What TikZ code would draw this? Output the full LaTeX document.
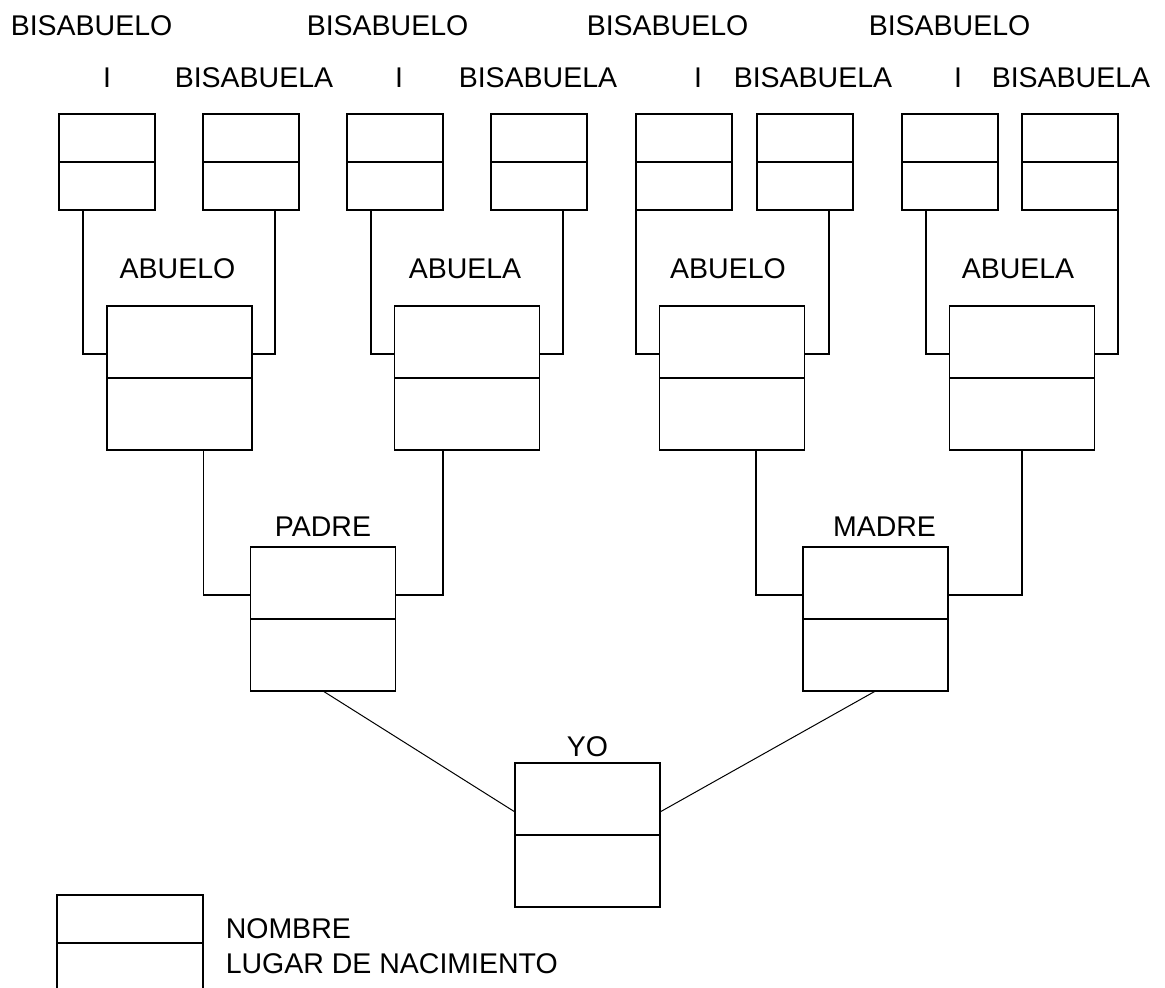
\documentclass[tikz,border=0pt]{standalone}
\usepackage{fontspec}
\setmainfont{Liberation Sans}
\begin{document}
\begin{tikzpicture}[x=1pt,y=-1pt,line width=1.5pt,
        famtext/.style={inner sep=0pt,font=\fontsize{28.5}{34}\selectfont},
        every label/.style={famtext},
        bisbox/.style={draw,rectangle,inner sep=0pt,outer sep=0pt,minimum width=96pt,minimum height=96pt,
            append after command={(\tikzlastnode.west) edge (\tikzlastnode.east)}},
        genbox/.style={bisbox,minimum width=145pt,minimum height=144pt},
        diag/.style={line width=1pt}]
        \useasboundingbox (0,0) rectangle (1165,988);

        % bisabuelos
        \node[famtext,anchor=base west] (t1) at (10,35)  {BISABUELO};
        \node[famtext,anchor=base west] (t2) at (306,35) {BISABUELO};
        \node[famtext,anchor=base west] (t3) at (586,35) {BISABUELO};
        \node[famtext,anchor=base west] (t4) at (868,35) {BISABUELO};
        \node[famtext,anchor=base] (i1) at (107,87) {I};
        \node[famtext,anchor=base] (i2) at (399,87) {I};
        \node[famtext,anchor=base] (i3) at (698,87) {I};
        \node[famtext,anchor=base] (i4) at (958,87) {I};
        \node[famtext,anchor=base west] (s1) at (174,87) {BISABUELA};
        \node[famtext,anchor=base west] (s2) at (458,87) {BISABUELA};
        \node[famtext,anchor=base west] (s3) at (733,87) {BISABUELA};
        \node[famtext,anchor=base west] (s4) at (991,87) {BISABUELA};

        \node[bisbox] (b1) at (107,162)  {};
        \node[bisbox] (b2) at (251,162)  {};
        \node[bisbox] (b3) at (395,162)  {};
        \node[bisbox] (b4) at (539,162)  {};
        \node[bisbox] (b5) at (684,162)  {};
        \node[bisbox] (b6) at (805,162)  {};
        \node[bisbox] (b7) at (950,162)  {};
        \node[bisbox] (b8) at (1070,162) {};

        % abuelos
        \node[genbox,label={[label distance=26pt,xshift=-2pt]above:ABUELO}] (ab1) at (179.5,378) {};
        \node[genbox,label={[label distance=26pt,xshift=-2pt]above:ABUELA}] (ab2) at (467,378)   {};
        \node[genbox,label={[label distance=26pt,xshift=-4pt]above:ABUELO}] (ab3) at (732,378)   {};
        \node[genbox,label={[label distance=26pt,xshift=-4pt]above:ABUELA}] (ab4) at (1022,378)  {};

        % padres
        \node[genbox,label={[label distance=10pt]above:PADRE}] (padre) at (323,619)   {};
        \node[genbox,label={[label distance=10pt,xshift=9pt]above:MADRE}] (madre) at (875.5,619) {};
        \node[genbox,label={[label distance=5pt]above:YO}] (yo) at (587.5,835) {};

        % leyenda
        \node[bisbox,minimum width=146pt] (ley) at (130,943) {};
        \node[famtext,anchor=base west] (nombre) at (225,938) {NOMBRE};
        \node[famtext,anchor=base west] (lugar)  at (225,973) {LUGAR DE NACIMIENTO};

        \draw ([xshift=-24]b1.south) |- ([yshift=24]ab1.west);
        \draw ([xshift=24]b2.south)  |- ([yshift=24]ab1.east);
        \draw ([xshift=-24]b3.south) |- ([yshift=24]ab2.west);
        \draw ([xshift=24]b4.south)  |- ([yshift=24]ab2.east);
        \draw (b5.south west)        |- ([yshift=24]ab3.west);
        \draw ([xshift=24]b6.south)  |- ([yshift=24]ab3.east);
        \draw ([xshift=-24]b7.south) |- ([yshift=24]ab4.west);
        \draw (b8.south east)        |- ([yshift=24]ab4.east);

        \draw ([xshift=24]ab1.south)  |- ([yshift=24]padre.west);
        \draw ([xshift=-24]ab2.south) |- ([yshift=24]padre.east);
        \draw ([xshift=24]ab3.south)  |- ([yshift=24]madre.west);
        \draw (ab4.south)             |- ([yshift=24]madre.east);

        \draw[diag] (padre.south) -- ([yshift=23]yo.west);
        \draw[diag] (madre.south) -- ([yshift=23]yo.east);
    \end{tikzpicture}
\end{document}
